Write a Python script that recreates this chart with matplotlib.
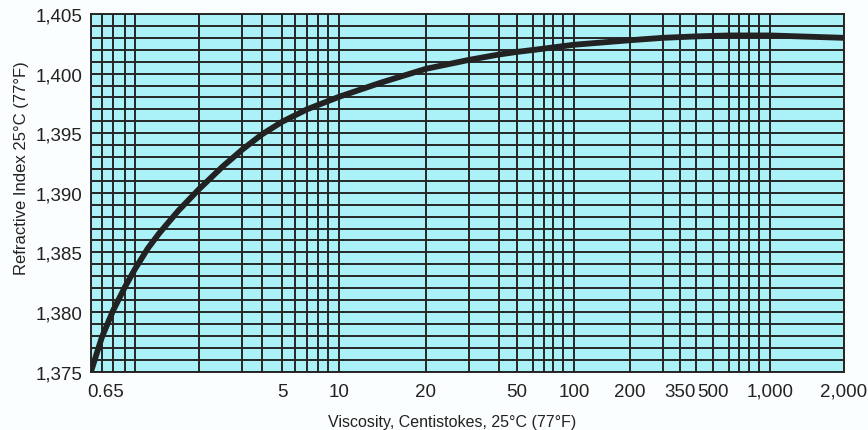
import numpy as np
import matplotlib
matplotlib.use("Agg")
import matplotlib.pyplot as plt
from matplotlib.ticker import FixedLocator, FuncFormatter, MultipleLocator
from matplotlib.transforms import ScaledTranslation

# ---- data ----
viscosity = [0.65, 0.7, 0.8, 0.9, 1.0, 1.15, 1.3, 1.6, 2, 2.5, 3, 4, 5, 7, 10, 14,
             20, 30, 40, 50, 60, 100, 200, 300, 400, 600, 1000, 2000]
refr_index = [1.3750, 1.3779, 1.3801, 1.3821, 1.3836, 1.38534, 1.3866, 1.3885, 1.3903,
              1.3922, 1.3936, 1.3949, 1.39595, 1.3970, 1.39805, 1.39925, 1.4004, 1.40115,
              1.4016, 1.40182, 1.40198, 1.40242, 1.4028, 1.4030, 1.40312, 1.4032, 1.4032,
              1.4030]

major_ticks = [0.65, 5, 10, 20, 50, 100, 200, 350, 500, 1000, 2000]
major_labels = ["0.65", "5", "10", "20", "50", "100", "200", "350", "500", "1,000", "2,000"]
minor_ticks = [0.7, 0.8, 0.9, 1, 2, 3, 4, 6, 7, 8, 9, 30, 40, 60, 70, 80, 90,
               300, 400, 600, 700, 800, 900]

# ---- non-uniform x scale of the original chart (value -> axis fraction) ----
scale_vals = [0.65, 0.7, 0.8, 0.9, 1, 2, 3, 4, 5, 6, 7, 8, 9, 10, 20, 30, 40, 50,
              60, 70, 80, 90, 100, 200, 300, 350, 400, 500, 600, 700, 800, 900, 1000, 2000]
scale_frac = np.array([91, 102, 113, 125, 135, 199, 242, 262, 282, 295, 307, 318, 328, 339,
                       426, 469, 499, 517, 533, 544, 553, 563, 574, 630, 663, 680, 696, 713,
                       729, 739, 749, 759, 770, 844], dtype=float)
scale_frac = (scale_frac - 91.0) / (844.0 - 91.0)
log_vals = np.log10(scale_vals)


def fwd(v):
    v = np.asarray(v, dtype=float)
    lv = np.log10(np.clip(v, 1e-6, None))
    return np.interp(lv, log_vals, scale_frac)


def inv(f):
    f = np.asarray(f, dtype=float)
    return 10 ** np.interp(f, scale_frac, log_vals)


plt.rcParams['font.family'] = ['Liberation Sans', 'DejaVu Sans']

fig = plt.figure(figsize=(8.68, 4.31), dpi=100)
fig.patch.set_facecolor("#fbfefe")
ax = fig.add_axes([91 / 868, 1 - 372.5 / 431, (844 - 91) / 868, (372.5 - 15) / 431])
ax.set_facecolor("#aaf2f7")

ax.set_xscale("function", functions=(fwd, inv))
ax.set_xlim(0.65, 2000)
ax.set_ylim(1.375, 1.405)

grid_col = "#262626"
ax.xaxis.set_major_locator(FixedLocator(major_ticks))
ax.xaxis.set_minor_locator(FixedLocator(minor_ticks))
ax.set_xticklabels(major_labels)
ax.xaxis.set_minor_formatter(FuncFormatter(lambda v, p: ""))
ax.yaxis.set_major_locator(MultipleLocator(0.005))
ax.yaxis.set_minor_locator(MultipleLocator(0.001))
ax.yaxis.set_major_formatter(FuncFormatter(lambda v, p: f"{v:.3f}".replace(".", ",")))

ax.grid(True, which="both", color=grid_col, linewidth=1.4)
ax.set_axisbelow(True)
ax.tick_params(which="both", length=0)
ax.tick_params(axis="y", pad=6, labelsize=13.5, colors="#222222")
ax.tick_params(axis="x", pad=8, labelsize=13.5, colors="#222222")
for s in ax.spines.values():
    s.set_color(grid_col)
    s.set_linewidth(1.4)

lbl0 = ax.get_xticklabels()[0]
lbl0.set_horizontalalignment("left")
lbl0.set_transform(lbl0.get_transform() + ScaledTranslation(-4 / 100, 0, fig.dpi_scale_trans))

ax.plot(viscosity, refr_index, color="#222222", linewidth=4.2, solid_capstyle="butt",
        solid_joinstyle="round", zorder=5)

ax.set_xlabel("Viscosity, Centistokes, 25°C (77°F)", fontsize=11.5, color="#222222", labelpad=10)
ax.xaxis.set_label_coords((452 - 91) / 753, -0.118)
ax.set_ylabel("Refractive Index 25°C (77°F)", fontsize=12, color="#222222")
ax.yaxis.set_label_coords(-0.082, (372.5 - 168) / 357.5)

fig.savefig("out.png", dpi=100, facecolor=fig.get_facecolor())
